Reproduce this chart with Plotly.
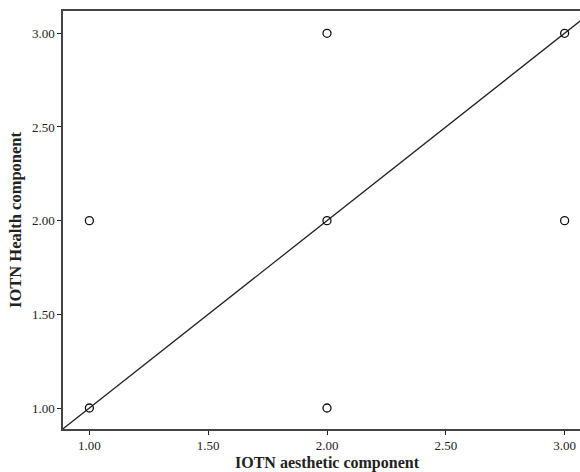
import plotly.graph_objects as go

aesthetic = [1, 1, 2, 2, 2, 3, 3]
health = [1, 2, 1, 2, 3, 2, 3]
tick_vals = [1.0, 1.5, 2.0, 2.5, 3.0]
tick_text = ["1.00", "1.50", "2.00", "2.50", "3.00"]
x_range = [0.889, 3.111]
y_range = [0.888, 3.119]
ref_line = [0.8, 3.2]

fig = go.Figure()
fig.add_trace(go.Scatter(x=ref_line, y=ref_line, mode="lines",
                         line=dict(color="#222222", width=1.3),
                         hoverinfo="skip", showlegend=False))
fig.add_trace(go.Scatter(x=aesthetic, y=health, mode="markers",
                         marker=dict(symbol="circle-open", size=8,
                                     color="#111111", line=dict(width=1.3)),
                         showlegend=False))

axis_common = dict(showgrid=False, zeroline=False, showline=True,
                   linecolor="#444444", linewidth=1.5, ticks="outside",
                   ticklen=4, tickwidth=1, tickcolor="#222222",
                   tickvals=tick_vals, ticktext=tick_text,
                   tickfont=dict(family="Liberation Serif", size=13, color="#222222"))

fig.update_layout(
    width=591, height=472,
    margin=dict(l=63, r=0, t=11, b=43),
    plot_bgcolor="white", paper_bgcolor="white",
    xaxis=dict(range=x_range, mirror=True,
               title=dict(text="<b>IOTN aesthetic component</b>",
                          font=dict(family="Liberation Serif", size=16, color="#222222"),
                          standoff=4),
               **axis_common),
    yaxis=dict(range=y_range, mirror=False,
               title=dict(text="<b>IOTN Health component</b>",
                          font=dict(family="Liberation Serif", size=16.5, color="#222222"),
                          standoff=6),
               **axis_common),
)

fig.write_html("out.html", config={"displayModeBar": False},
               post_script="document.body.style.margin='0';document.body.style.overflow='hidden';")
